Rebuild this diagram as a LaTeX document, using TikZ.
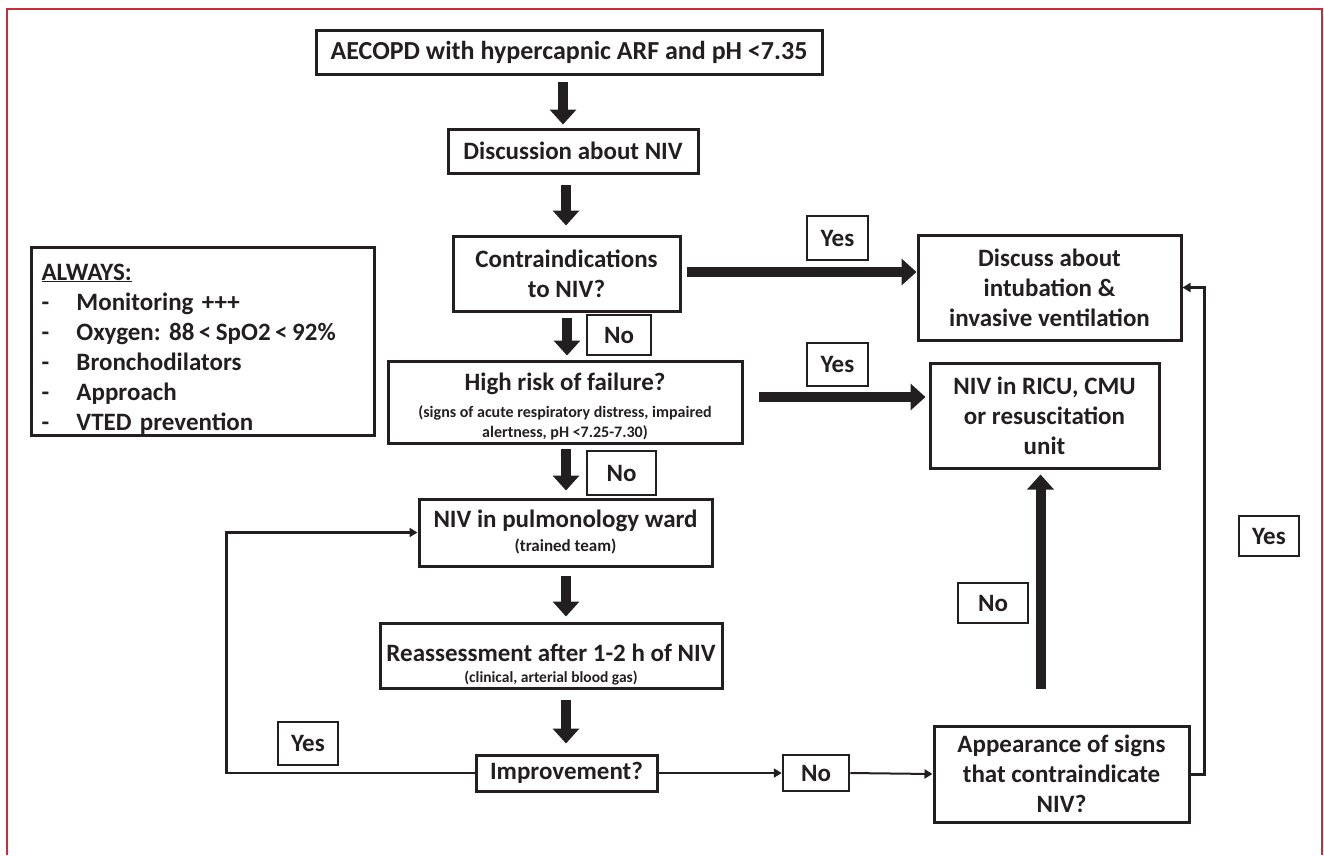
\documentclass[tikz,border=0pt]{standalone}
\usepackage{fontspec}
\setmainfont{Carlito}
\usetikzlibrary{arrows.meta,calc}
\definecolor{framered}{RGB}{200,45,55}
\definecolor{ink}{RGB}{35,31,32}
\frenchspacing
\begin{document}
\begin{tikzpicture}[x=1pt,y=-1pt,
  box/.style={draw=ink, line width=3pt, align=center, inner sep=0pt, text=ink,
    font=\bfseries\fontsize{25}{30}\selectfont},
  lab/.style={box, line width=2.5pt},
  big/.style={draw=ink, line width=10pt, -{Triangle[length=15pt,width=26pt]}},
  thin/.style={draw=ink, line width=2.5pt, -{Triangle[length=8pt,width=9pt]}}
]
\useasboundingbox (0,0) rectangle (1324,855);
\draw[framered, line width=2.5pt] (7,855) -- (7,9) -- (1322,9) -- (1322,855);
\coordinate (sp) at (565,0);

% main column
\node[box, minimum width=506pt, minimum height=44pt, font=\bfseries\fontsize{26}{30}\selectfont] (top) at (569,52) {AECOPD with hypercapnic ARF and pH <7.35};
\node[box, minimum width=250pt, minimum height=44pt] (disc) at (573,151) {Discussion about NIV};
\node[box, minimum width=227pt, minimum height=75pt] (contra) at (566.5,273.5) {Contraindications\\to NIV?};
\node[box, minimum width=354pt, minimum height=82pt] (high) at (565,402)
  {\rule{0pt}{26pt}High risk of failure?\\[-3pt]
   {\fontsize{16}{20}\selectfont (signs of acute respiratory distress, impaired}\\[-10pt]
   {\fontsize{16}{20}\selectfont alertness, pH <7.25-7.30)}};
\node[box, minimum width=293pt, minimum height=67pt] (pulm) at (565.5,532.5)
  {NIV in pulmonology ward\\[-6pt]{\fontsize{17}{20}\selectfont (trained team)}};
\node[box, minimum width=342pt, minimum height=65pt] (reass) at (551,655.5)
  {\rule{0pt}{35pt}Reassessment after 1-2 h of NIV\\[-9pt]{\fontsize{15.5}{18}\selectfont (clinical, arterial blood gas)}};
\node[box, minimum width=181pt, minimum height=36pt] (impr) at (566.5,773) {Improvement?};

% right column
\node[box, minimum width=263pt, minimum height=105pt] (disc2) at (1049.5,287.5) {Discuss about\\intubation \&\\invasive ventilation};
\node[box, minimum width=229pt, minimum height=105pt] (ricu) at (1044.5,415.5) {NIV in RICU, CMU\\or resuscitation\\unit};
\node[box, minimum width=255pt, minimum height=96pt] (appear) at (1061.5,774) {Appearance of signs\\that contraindicate\\NIV?};

% left box
\node[box, anchor=north west, minimum width=343pt, minimum height=188pt, align=left,
  text width=323pt, inner xsep=10pt] (always) at (30,246)
  {\rule{0pt}{31pt}\underline{ALWAYS:}\\
   \makebox[35pt][l]{-}Monitoring +++\\
   \makebox[35pt][l]{-}Oxygen: 88\hspace{4.5pt}<\hspace{4.5pt}SpO2\hspace{4.5pt}<\hspace{4.5pt}92\%\\
   \makebox[35pt][l]{-}Bronchodilators\\
   \makebox[35pt][l]{-}Approach\\
   \makebox[35pt][l]{-}VTED prevention};

% labels
\node[lab, minimum width=61pt, minimum height=44pt] (yes1) at (837.5,238) {Yes};
\node[lab, minimum width=61pt, minimum height=43pt] (yes2) at (837.5,364.5) {Yes};
\node[lab, minimum width=64pt, minimum height=40pt] (no1) at (619,335) {No};
\node[lab, minimum width=69pt, minimum height=44pt] (no2) at (621.5,473) {No};
\node[lab, minimum width=60pt, minimum height=43pt] (yesL) at (308,743.5) {Yes};
\node[lab, minimum width=66pt, minimum height=36pt] (noI) at (816,773) {No};
\node[lab, minimum width=70pt, minimum height=40pt] (noR) at (993,603) {No};
\node[lab, minimum width=60pt, minimum height=40pt] (yesR) at (1269,536) {Yes};

% thick arrows down the spine
\draw[big] ($(top.south -| sp)+(-2,6)$) -- ($(disc.north -| sp)+(-2,-3)$);
\draw[big] ($(disc.south -| sp)+(1,10)$) -- ($(contra.north -| sp)+(1,-9)$);
\draw[big] ($(contra.south -| sp)+(2,5)$) -- ($(high.north -| sp)+(2,-4)$);
\draw[big] ($(high.south -| sp)+(1,4)$) -- ($(pulm.north -| sp)+(1,-7)$);
\draw[big] ($(pulm.south -| sp)+(1,8)$) -- ($(reass.north -| sp)+(1,-5)$);
\draw[big] ($(reass.south -| sp)+(1,10)$) -- ($(impr.north -| sp)+(1,-10)$);

% thick horizontal / vertical arrows
\draw[big] ($(contra.east)+(5,-1.5)$) coordinate (c1) -- (c1 -| disc2.west);
\draw[big] ($(high.east)+(15,-5)$) coordinate (h1) -- ($(h1 -| ricu.west)+(-3,0)$);
\draw[big] ($(appear.north)+(-21,-36)$) -- ($(ricu.south)+(-4,5)$);

% thin connectors
\draw[thin] (impr.west) -- ++(-248,0) |- (pulm.west);
\draw[thin, line width=2pt] (impr.east) -- (noI.west);
\draw[thin, line width=2pt] (noI.east) -- (appear.west);
\draw[thin, line width=3pt] (appear.east) -- ++(14,0) |- (disc2.east);
\end{tikzpicture}
\end{document}
